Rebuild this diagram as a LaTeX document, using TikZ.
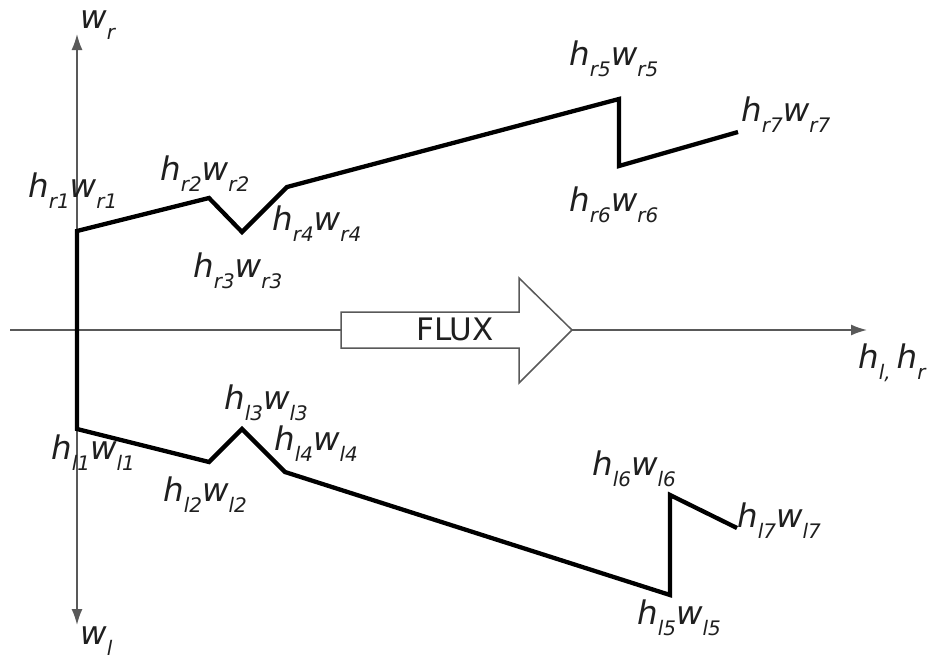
\documentclass[tikz,border=0pt]{standalone}
\usepackage{fontspec}
\setmainfont{DejaVu Sans}
\usetikzlibrary{arrows.meta}
\newcommand{\subfnt}{\fontsize{20}{20}\selectfont}
\newcommand{\sbs}[1]{\raisebox{-11pt}{\subfnt #1}}
\newcommand{\hwlab}[1]{h\sbs{#1}w\sbs{#1}}
\tikzset{
  lab/.style={anchor=base west, inner sep=0pt, font=\fontsize{32.5}{32.5}\selectfont\itshape, text=black!88},
  axisline/.style={line width=1.6pt, draw=black!65, arrows={Latex[length=16pt,width=11pt]-Latex[length=16pt,width=11pt]}},
  axisarrow/.style={line width=1.6pt, draw=black!65, -{Latex[length=16pt,width=11pt]}},
  profile/.style={line width=4.3pt, draw=black, line join=miter},
  fluxbox/.style={line width=1.5pt, draw=black!65, fill=white}
}
\begin{document}
\begin{tikzpicture}[x=1pt,y=-1pt]
\useasboundingbox (0,0) rectangle (940,659);
% axes
\coordinate (vb) at (77,625);
\coordinate (vt) at (77,34);
\coordinate (hl) at (10,330);
\coordinate (hr) at (867,330);
\draw[axisline] (vb) -- (vt);
\draw[axisarrow] (hl) -- (hr);
% flux arrow
\coordinate (f1) at (341,312);
\coordinate (f2) at (519,312);
\coordinate (f3) at (519,278);
\coordinate (f4) at (572,330);
\coordinate (f5) at (519,383);
\coordinate (f6) at (519,348);
\coordinate (f7) at (341,348);
\draw[fluxbox] (f1) -- (f2) -- (f3) -- (f4) -- (f5) -- (f6) -- (f7) -- cycle;
\node[inner sep=0pt, font=\fontsize{31}{31}\selectfont, text=black!88] (flux) at (455,329) {FLUX};
% profile points
\coordinate (r1) at (77,231);
\coordinate (r2) at (209,198);
\coordinate (r3) at (242,232);
\coordinate (r4) at (287,187);
\coordinate (r5) at (619,99);
\coordinate (r6) at (619,166);
\coordinate (r7) at (738,132);
\coordinate (l1) at (77,429);
\coordinate (l2) at (209,462);
\coordinate (l3) at (242,429);
\coordinate (l4) at (285,472);
\coordinate (l5) at (670,595);
\coordinate (l6) at (670,495);
\coordinate (l7) at (737,528);
\draw[profile] (r7) -- (r6) -- (r5) -- (r4) -- (r3) -- (r2) -- (r1) -- (l1) -- (l2) -- (l3) -- (l4) -- (l5) -- (l6) -- (l7);
% labels
\node[lab] (tr1) at (28,197) {\hwlab{r1}};
\node[lab] (tr2) at (160,180) {\hwlab{r2}};
\node[lab] (tr3) at (193,277) {\hwlab{r3}};
\node[lab] (tr4) at (272,230) {\hwlab{r4}};
\node[lab] (tr5) at (569,65) {\hwlab{r5}};
\node[lab] (tr6) at (569,211) {\hwlab{r6}};
\node[lab] (tr7) at (741,121) {\hwlab{r7}};
\node[lab] (tl1) at (51,459) {\hwlab{l1}};
\node[lab] (tl2) at (163,501) {\hwlab{l2}};
\node[lab] (tl3) at (224,409) {\hwlab{l3}};
\node[lab] (tl4) at (274,450) {\hwlab{l4}};
\node[lab] (tl5) at (637,624) {\hwlab{l5}};
\node[lab] (tl6) at (592,475) {\hwlab{l6}};
\node[lab] (tl7) at (737,527) {\hwlab{l7}};
\node[lab] (twr) at (80,28) {w\sbs{r}};
\node[lab] (twl) at (80,644) {w\sbs{l}};
\node[lab] (th) at (858,368) {h\sbs{l,}\hspace{6pt}h\sbs{r}};
\end{tikzpicture}
\end{document}
